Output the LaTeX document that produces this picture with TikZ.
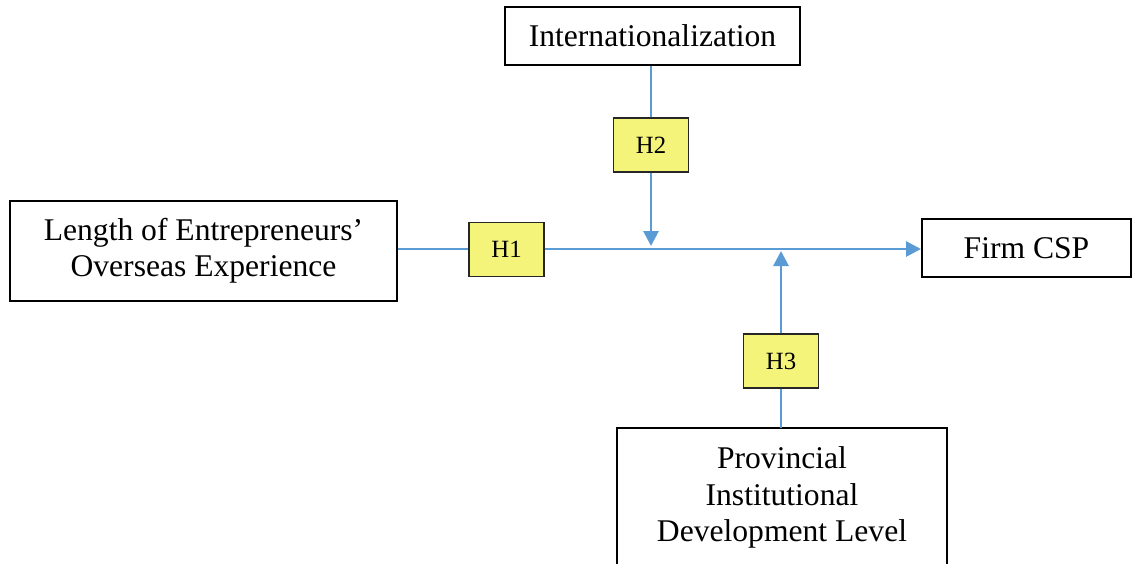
\documentclass[tikz,border=0pt]{standalone}
\usepackage{fontspec}
\setmainfont{Liberation Serif}
\usetikzlibrary{arrows.meta}
\definecolor{lineblue}{RGB}{91,155,213}
\definecolor{hyellow}{RGB}{245,244,122}
\begin{document}
\begin{tikzpicture}[x=0.5pt,y=-0.5pt,
  bigbox/.style={draw=black,line width=1pt,fill=white,align=center,inner sep=0pt,
    font=\fontsize{15.8}{18.2}\selectfont},
  hbox/.style={draw=black!85,line width=0.6pt,fill=hyellow,inner sep=0pt,
    minimum width=37.5pt,minimum height=27pt,font=\fontsize{12.4}{14}\selectfont},
  conn/.style={draw=lineblue,line width=1.4pt},
  arr/.style={conn,-{Triangle[length=7.5pt,width=7.5pt]}}]
\useasboundingbox (0,0) rectangle (1133,563);
\clip (0,0) rectangle (1133,563);
\fill[white] (0,0) rectangle (1133,563);
% boxes
\node[bigbox,minimum width=147.5pt,minimum height=29pt] (intl) at (652.5,36) {Internationalization};
\node[bigbox,minimum width=193.5pt,minimum height=50pt] (len) at (203.5,251) {Length of Entrepreneurs'\\Overseas Experience};
\node[bigbox,minimum width=104.5pt,minimum height=29pt] (csp) at (1026.5,248) {Firm CSP};
\node[align=center,inner sep=0pt,minimum width=165pt,minimum height=69.5pt,
  font=\fontsize{15.8}{18.2}\selectfont] (prov) at (782,497.5) {Provincial\\Institutional\\Development Level};
\draw[line width=1pt] ([yshift=-30pt]prov.south west) -- (prov.north west) -- (prov.north east) -- ([yshift=-30pt]prov.south east);
% hypothesis boxes
\node[hbox] (h1) at (506.5,249.5) {H1};
\node[hbox] (h2) at (651,145) {H2};
\node[hbox] (h3) at (781,361) {H3};
\coordinate (m2) at (651,246);
\coordinate (m3) at (781,251);
% connectors
\draw[conn] (len.east |- 0,249) -- (h1.west |- 0,249);
\draw[arr] (h1.east |- 0,249) -- (csp.west |- 0,249);
\draw[conn] (h2.north) -- (h2.north |- intl.south);
\draw[arr] (h2.south) -- (m2);
\draw[conn] (h3.south) -- (h3.south |- prov.north);
\draw[arr] (h3.north) -- (m3);
\end{tikzpicture}
\end{document}
